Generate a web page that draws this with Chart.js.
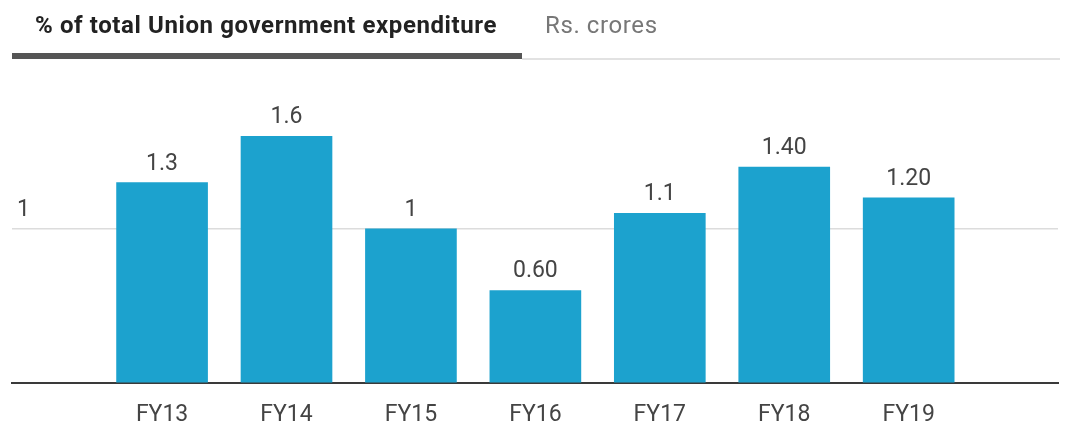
<!DOCTYPE html>
<html>
<head>
<meta charset="utf-8">
<script src="https://cdn.jsdelivr.net/npm/chart.js@4"></script>
<style>
  html, body { margin: 0; padding: 0; background: #fff; }
  #wrap { position: relative; width: 1076px; height: 423px; }
  #tabs { position: absolute; left: 0; top: 0; width: 1076px; height: 62px; font-family: Roboto, sans-serif; }
  .tab { position: absolute; top: 9px; white-space: nowrap; font-size: 24px; line-height: 32px; }
  #t1 { left: 35px; font-weight: bold; color: #222; letter-spacing: 0.6px; }
  #t2 { left: 545px; color: #777; letter-spacing: 0.6px; }
  #ul1 { position: absolute; left: 12px; top: 53px; width: 510px; height: 6px; background: #555; }
  #ul2 { position: absolute; left: 522px; top: 58px; width: 538px; height: 2px; background: #e2e2e2; }
  canvas { position: absolute; left: 0; top: 0; }
</style>
</head>
<body>
<div id="wrap">
  <canvas id="c" width="1076" height="423"></canvas>
  <div id="tabs">
    <span class="tab" id="t1">% of total Union government expenditure</span>
    <span class="tab" id="t2">Rs. crores</span>
    <div id="ul1"></div>
    <div id="ul2"></div>
  </div>
</div>
<script>
const categories = ['FY13', 'FY14', 'FY15', 'FY16', 'FY17', 'FY18', 'FY19'];
const values = [1.3, 1.6, 1, 0.6, 1.1, 1.4, 1.2];
const valueLabels = ['1.3', '1.6', '1', '0.60', '1.1', '1.40', '1.20'];
const yTicks = [0, 1];

const barColor = '#1ca2ce';
const textColor = '#444';

const valueLabelPlugin = {
  id: 'valueLabels',
  afterDatasetsDraw(chart) {
    const ctx = chart.ctx;
    const meta = chart.getDatasetMeta(0);
    ctx.save();
    ctx.font = '23px Roboto, sans-serif';
    ctx.fillStyle = textColor;
    ctx.textAlign = 'center';
    ctx.textBaseline = 'alphabetic';
    meta.data.forEach((bar, i) => {
      ctx.fillText(valueLabels[i], bar.x, bar.y - 13);
    });
    ctx.restore();
  }
};

new Chart(document.getElementById('c'), {
  type: 'bar',
  data: {
    datasets: [{
      data: categories.map((c, i) => ({ x: i, y: values[i] })),
      backgroundColor: barColor,
      borderWidth: 0,
      barThickness: 91
    }]
  },
  options: {
    responsive: false,
    animation: false,
    devicePixelRatio: 1,
    layout: { padding: { left: 12, right: 18, top: 90, bottom: 0 } },
    plugins: { legend: { display: false }, tooltip: { enabled: false } },
    scales: {
      x: {
        type: 'linear',
        offset: false,
        min: -1.206,
        max: 7.2,
        afterBuildTicks: (s) => { s.ticks = categories.map((c, i) => ({ value: i })); },
        afterFit: (s) => { s.height = 40; },
        grid: { display: false },
        border: { display: true, color: '#3a3a3a', width: 2 },
        ticks: {
          autoSkip: false,
          maxRotation: 0,
          padding: 10,
          color: textColor,
          font: { family: 'Roboto, sans-serif', size: 23 },
          callback: (v) => categories[v]
        }
      },
      y: {
        min: 0,
        max: 1.9,
        afterBuildTicks: (s) => { s.ticks = yTicks.map(v => ({ value: v })); },
        afterFit: (s) => { s.width = 0; },
        border: { display: false },
        grid: {
          drawTicks: false,
          color: (c) => c.tick && c.tick.value === 0 ? 'rgba(0,0,0,0)' : '#dcdcdc',
          lineWidth: 1.5
        },
        ticks: {
          mirror: true,
          padding: 5,
          labelOffset: -19,
          color: textColor,
          font: { family: 'Roboto, sans-serif', size: 23 },
          callback: (v) => v === 0 ? '' : String(v)
        }
      }
    }
  },
  plugins: [valueLabelPlugin]
});
</script>
</body>
</html>
